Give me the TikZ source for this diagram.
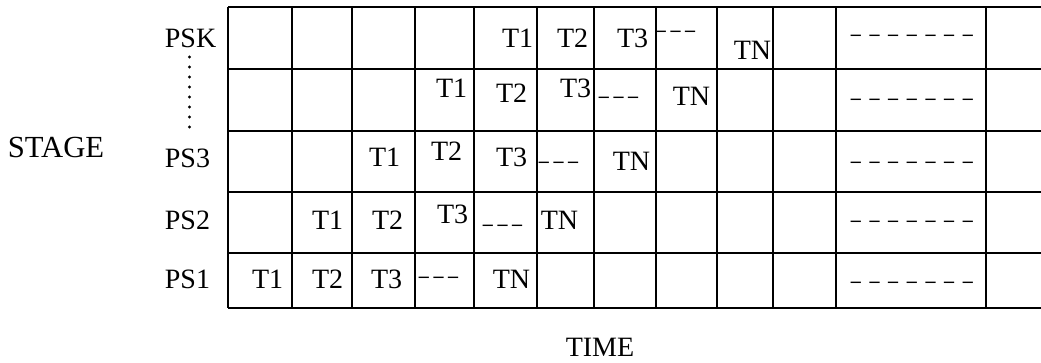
\documentclass[tikz,border=0pt]{standalone}
\usepackage{fontspec}
\setmainfont{Liberation Serif}
\usepackage{tikz}
\usetikzlibrary{positioning}

\newcommand{\shortdash}{--\hspace{3.5pt}--\hspace{3.5pt}--}
\newcommand{\longdash}{--\hspace{6.5pt}--\hspace{6.5pt}--\hspace{6.5pt}--\hspace{6.5pt}--\hspace{6.5pt}--\hspace{6.5pt}--}

\tikzset{
  cell/.style={font=\fontsize{21}{24}\selectfont, inner sep=0pt},
  dashtxt/.style={font=\fontsize{15}{18}\selectfont\bfseries, inner sep=0pt, anchor=base west},
  lbl/.style={font=\fontsize{21}{24}\selectfont, inner sep=0pt, anchor=west}
}

\begin{document}
\begin{tikzpicture}[x=0.75pt, y=-0.75pt, line width=1.3pt]
            \useasboundingbox (0,0) rectangle (1041,363);
            % grid
            \foreach \x in {228,292,352,415,474,537,594,656,717,773,836,986} {
                \draw (\x,7) -- (\x,308);
            }
            \foreach \y in {7,69,131,192,253,308} {
                \draw (228,\y) -- (1041,\y);
            }
            % stage labels
            \node[lbl] (psk) at (164,38) {PSK};
            \node[lbl] (ps3) at (164,158) {PS3};
            \node[lbl] (ps2) at (164,220) {PS2};
            \node[lbl] (ps1) at (164,279) {PS1};
            \draw[line width=2.4pt, line cap=round, dash pattern=on 0pt off 7.5pt] (189.5,57) -- (189.5,132);
            \node[font=\fontsize{23}{26}\selectfont] (stage) at (56,147) {STAGE};
            \node[font=\fontsize{21}{24}\selectfont] (time) at (600,347) {TIME};
            % row PSK
            \node[cell, anchor=east] (k1) at (534,38) {T1};
            \node[cell, anchor=east] (k2) at (589,38) {T2};
            \node[cell, anchor=east] (k3) at (649,38) {T3};
            \node[dashtxt] (kd) at (655,37) {\shortdash};
            \node[cell, anchor=east] (kn) at (772,50) {TN};
            \node[dashtxt] (kl) at (850,41) {\longdash};
            % row below PSK
            \node[cell, anchor=east] (j1) at (468,88) {T1};
            \node[cell, anchor=east] (j2) at (528,93) {T2};
            \node[cell, anchor=east] (j3) at (592,88) {T3};
            \node[dashtxt] (jd) at (598,103) {\shortdash};
            \node[cell, anchor=east] (jn) at (711,96) {TN};
            \node[dashtxt] (jl) at (850,105) {\longdash};
            % row PS3
            \node[cell, anchor=east] (c1) at (401,157) {T1};
            \node[cell, anchor=east] (c2) at (463,151) {T2};
            \node[cell, anchor=east] (c3) at (528,157) {T3};
            \node[dashtxt] (cd) at (538,168) {\shortdash};
            \node[cell, anchor=east] (cn) at (651,161) {TN};
            \node[dashtxt] (cl) at (850,168) {\longdash};
            % row PS2
            \node[cell, anchor=east] (b1) at (344,220) {T1};
            \node[cell, anchor=east] (b2) at (404,220) {T2};
            \node[cell, anchor=east] (b3) at (469,214) {T3};
            \node[dashtxt] (bd) at (482,230) {\shortdash};
            \node[cell, anchor=west] (bn) at (540,220) {TN};
            \node[dashtxt] (bl) at (850,227) {\longdash};
            % row PS1
            \node[cell, anchor=east] (a1) at (284,279) {T1};
            \node[cell, anchor=east] (a2) at (344,279) {T2};
            \node[cell, anchor=east] (a3) at (403,279) {T3};
            \node[dashtxt] (ad) at (418,282) {\shortdash};
            \node[cell, anchor=east] (an) at (531,279) {TN};
            \node[dashtxt] (al) at (850,287) {\longdash};
        \end{tikzpicture}
\end{document}
